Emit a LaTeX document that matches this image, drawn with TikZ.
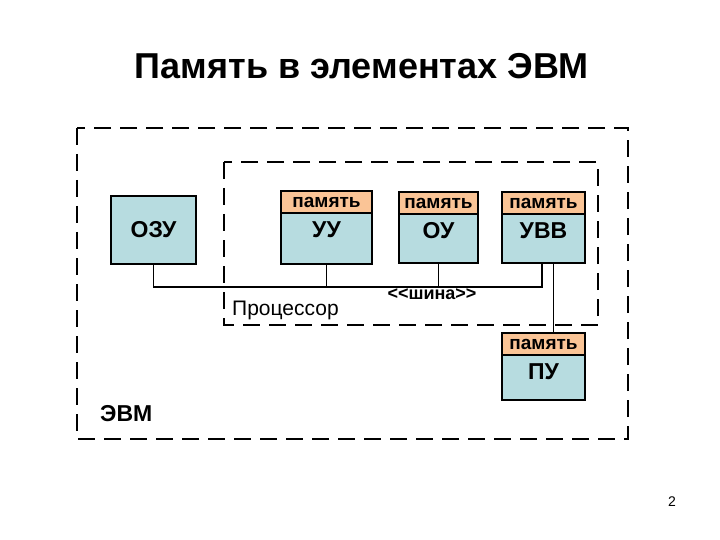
\documentclass[tikz,border=0pt]{standalone}
\usepackage{fontspec}
\setmainfont{Liberation Sans}
\usetikzlibrary{positioning,calc}
\definecolor{unitBlue}{RGB}{183,220,224}
\definecolor{memOrange}{RGB}{250,196,150}
\newcommand{\fsz}[1]{\fontsize{#1}{#1}\selectfont}

\begin{document}
\begin{tikzpicture}[x=1pt, y=-1pt,
  unit/.style={draw, line width=2pt, fill=unitBlue, minimum height=72pt, inner sep=0pt},
  mem/.style={draw, line width=2pt, fill=memOrange, anchor=north, minimum height=22pt,
    inner sep=0pt, font=\bfseries\fsz{19}},
  unittext/.style={inner sep=0pt, font=\bfseries\fsz{23}},
  frame/.style={line width=2pt, dash pattern=on 17pt off 9pt},
  bus/.style={line width=1.8pt}]
  \useasboundingbox[fill=white] (0,0) rectangle (720,540);
  % title
  \node[font=\bfseries\fsz{36}] (title) at (362,66) {Память в элементах ЭВМ};
  % dashed frames: ЭВМ and processor
  \draw[frame] (77,128) rectangle (628,439);
  \draw[frame] (224,162) rectangle (598,325);
  % units
  \node[unit, minimum width=85pt, minimum height=68pt, font=\bfseries\fsz{23}] (ozu) at (153.5,230) {ОЗУ};
  \node[unit, minimum width=91pt, minimum height=73pt] (uu) at (326.5,227.5) {};
  \node[unit, minimum width=79pt, minimum height=71pt] (ou) at (438.5,227.5) {};
  \node[unit, minimum width=83pt, minimum height=71pt] (uvv) at (543.5,227.5) {};
  \node[unit, minimum width=83pt, minimum height=67pt] (pu) at (543.5,366.5) {};
  % memory strips
  \node[mem, minimum width=91pt] (uumem) at (uu.north) {память};
  \node[mem, minimum width=79pt] (oumem) at (ou.north) {память};
  \node[mem, minimum width=83pt] (uvvmem) at (uvv.north) {память};
  \node[mem, minimum width=83pt] (pumem) at (pu.north) {память};
  % unit names
  \node[unittext, below=7pt of uumem] (uutxt) {УУ};
  \node[unittext, below=7pt of oumem] (outxt) {ОУ};
  \node[unittext, below=7pt of uvvmem] (uvvtxt) {УВВ};
  \node[unittext, below=7pt of pumem] (putxt) {ПУ};
  % bus
  \coordinate (busR) at (542,287);
  \draw[bus] (ozu.south) |- (busR) -- (busR |- uvv.south);
  \draw[bus] (uu.south) -- (uu.south |- busR);
  \draw[bus] (ou.south) -- (ou.south |- busR);
  \draw[bus] ($(uvv.south)+(10,0)$) -- ($(pumem.north)+(10,0)$);
  % labels
  \node[anchor=base west, inner sep=0pt, font=\fsz{21}] (proc) at (232,315) {Процессор};
  \node[anchor=base, inner sep=0pt, font=\bfseries\fsz{18}] (bustxt) at (432,299) {{<}{<}шина{>}{>}};
  \node[anchor=base west, inner sep=0pt, font=\bfseries\fsz{23}] (evm) at (100,421) {ЭВМ};
  \node[anchor=base, inner sep=0pt, font=\fsz{14}] (page) at (672,506) {2};
\end{tikzpicture}
\end{document}
